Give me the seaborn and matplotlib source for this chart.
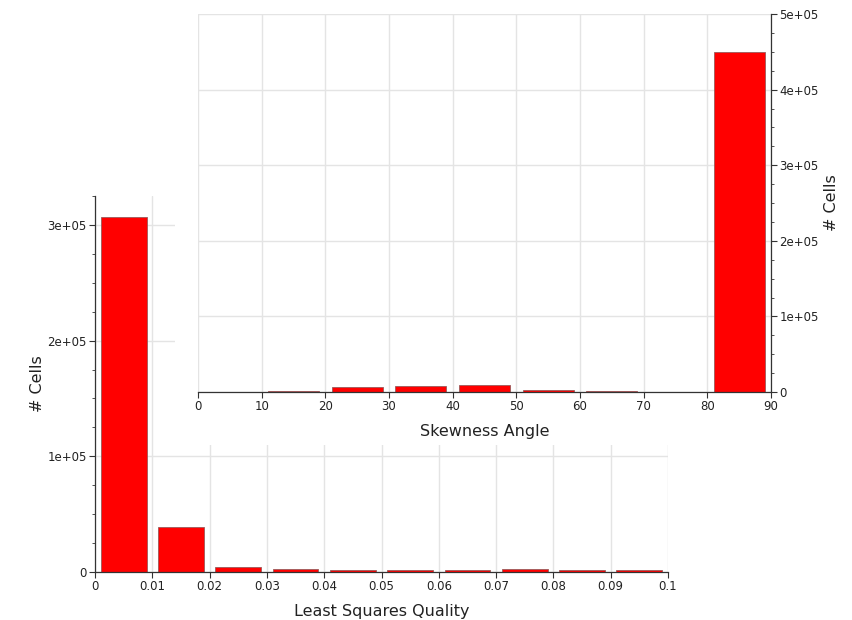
import numpy as np
import seaborn as sns
import matplotlib
matplotlib.use("Agg")
import matplotlib.pyplot as plt
from matplotlib.ticker import FuncFormatter, MultipleLocator

# -----------------------------------------------
# Data (histogram counts)
# -----------------------------------------------
lsq_edges = [0.0, 0.01, 0.02, 0.03, 0.04, 0.05, 0.06, 0.07, 0.08, 0.09, 0.1]
lsq_counts = [307000, 39000, 4000, 3000, 2000, 1800, 1800, 2500, 1800, 1800]

skew_edges = [0, 10, 20, 30, 40, 50, 60, 70, 80, 90]
skew_counts = [500, 1700, 6200, 8400, 9700, 2200, 1000, 500, 450000]

lsq_ticks = [0, 0.01, 0.02, 0.03, 0.04, 0.05, 0.06, 0.07, 0.08, 0.09, 0.1]
skew_ticks = [0, 10, 20, 30, 40, 50, 60, 70, 80, 90]

bar_red = "#ff0000"
bar_edge = "#9a5a5a"
grid_col = "#e4e4e4"
ink = "#222222"

sns.set_style("white")
plt.rcParams["font.family"] = ["DejaVu Sans"]

fig = plt.figure(figsize=(8.52, 6.2), dpi=100)

sci_fmt = FuncFormatter(lambda v, p: "0" if v == 0 else f"{v:.0e}")
num_fmt = FuncFormatter(lambda v, p: f"{v:g}")


def style_axis(ax, right=False):
    ax.tick_params(axis="both", which="major", labelsize=8.5, length=4,
                   width=0.8, color="#333333", labelcolor=ink, pad=2)
    ax.tick_params(axis="x", which="both", bottom=True, top=False)
    ax.tick_params(axis="y", which="both", left=not right, right=right,
                   labelleft=not right, labelright=right)
    ax.tick_params(axis="y", which="minor", length=2.5, width=0.6, color="#333333")
    ax.yaxis.set_major_formatter(sci_fmt)
    ax.xaxis.set_major_formatter(num_fmt)
    ax.grid(True, which="major", color=grid_col, linewidth=1)
    ax.set_axisbelow(True)


# -----------------------------------------------
# Back chart: Least Squares Quality
# -----------------------------------------------
ax1 = fig.add_axes([95 / 852, 48 / 620, 573 / 852, 376 / 620], zorder=0)
lsq_centers = [(a + b) / 2 for a, b in zip(lsq_edges[:-1], lsq_edges[1:])]
sns.histplot(x=lsq_centers, weights=lsq_counts, bins=lsq_edges, shrink=0.8,
             color=bar_red, alpha=1, edgecolor=bar_edge, linewidth=0.6, ax=ax1)
ax1.set_xlim(0, 0.1)
ax1.set_ylim(0, 325000)
ax1.set_xticks(lsq_ticks)
ax1.set_yticks([0, 100000, 200000, 300000])
ax1.yaxis.set_minor_locator(MultipleLocator(25000))
style_axis(ax1)
for s in ["top", "right"]:
    ax1.spines[s].set_visible(False)
for s in ["left", "bottom"]:
    ax1.spines[s].set_color("#333333")
    ax1.spines[s].set_linewidth(0.9)
ax1.set_xlabel("Least Squares Quality", fontsize=11.5, labelpad=8, color=ink)
ax1.set_ylabel("# Cells", fontsize=11.5, labelpad=2, color=ink)

# -----------------------------------------------
# White cover between the two charts
# -----------------------------------------------
cover = fig.add_axes([175 / 852, 175 / 620, 677 / 852, 445 / 620], zorder=1)
cover.set_facecolor("white")
cover.set_xticks([])
cover.set_yticks([])
for s in cover.spines.values():
    s.set_visible(False)

# -----------------------------------------------
# Front chart: Skewness Angle
# -----------------------------------------------
ax2 = fig.add_axes([198 / 852, 228 / 620, 573 / 852, 378 / 620], zorder=2)
ax2.set_facecolor("white")
skew_centers = [(a + b) / 2 for a, b in zip(skew_edges[:-1], skew_edges[1:])]
sns.histplot(x=skew_centers, weights=skew_counts, bins=skew_edges, shrink=0.8,
             color=bar_red, alpha=1, edgecolor=bar_edge, linewidth=0.6, ax=ax2)
ax2.set_xlim(0, 90)
ax2.set_ylim(0, 500000)
ax2.set_xticks(skew_ticks)
ax2.set_yticks([0, 100000, 200000, 300000, 400000, 500000])
ax2.yaxis.set_minor_locator(MultipleLocator(25000))
ax2.yaxis.set_label_position("right")
style_axis(ax2, right=True)
for s in ["top", "left"]:
    ax2.spines[s].set_visible(False)
for s in ["right", "bottom"]:
    ax2.spines[s].set_color("#333333")
    ax2.spines[s].set_linewidth(0.9)
ax2.set_xlabel("Skewness Angle", fontsize=11.5, labelpad=8, color=ink)
ax2.set_ylabel("# Cells", fontsize=11.5, labelpad=4, color=ink)

fig.savefig("out.png", dpi=100)
